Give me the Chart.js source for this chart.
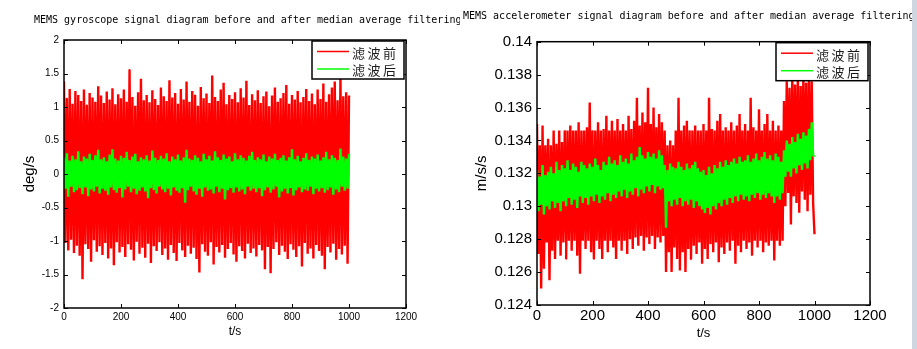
<!DOCTYPE html>
<html>
<head>
<meta charset="utf-8">
<script src="https://cdn.jsdelivr.net/npm/chart.js@4.4.1/dist/chart.umd.min.js"></script>
<style>
body { margin:0; background:#fff; width:917px; height:349px; overflow:hidden; position:relative; }
canvas { position:absolute; top:0; }
#gyro { left:0; }
#accel { left:460px; }
#edge { position:absolute; left:912px; top:0; width:5px; height:349px; background:#cfd6e0; }
</style>
</head>
<body>
<canvas id="gyro" width="460" height="349"></canvas>
<canvas id="accel" width="457" height="349"></canvas>
<div id="edge"></div>
<script>
// samples, one every 5 s (peaks at 0,10,20.. troughs at 5,15,25..)
let sampleStep = 5;
let seriesLabels = ['滤波前', '滤波后'];
let seriesColors = ['#ff0000', '#00ff00'];

let gyroTitle = 'MEMS gyroscope signal diagram before and after median average filtering';
let accelTitle = 'MEMS accelerometer signal diagram before and after median average filtering';

// gyroscope, before filtering (deg/s)
const gyroRawPeaks = [1.38,1.12,1.27,1.05,1.24,1.18,1.09,1.26,1.02,1.21,
  1.14,1.08,1.31,1.17,1.06,1.23,1.11,1.28,1.04,1.19,
  1.13,1.26,1.08,1.55,1.15,1.02,1.22,1.42,1.10,1.18,
  1.07,1.25,1.12,1.03,1.29,1.16,1.09,1.40,1.14,1.21,
  1.05,1.27,1.11,1.38,1.08,1.24,1.17,1.02,1.30,1.13,
  1.20,1.06,1.47,1.15,1.09,1.26,1.36,1.04,1.18,1.12,
  1.22,1.07,1.28,1.14,1.39,1.03,1.19,1.10,1.25,1.06,
  1.16,1.23,1.01,1.17,1.29,1.08,1.13,1.21,1.33,1.05,
  1.18,1.11,1.24,1.07,1.15,1.27,1.09,1.20,1.04,1.26,
  1.12,1.35,1.08,1.19,1.29,1.38,1.10,1.47,1.16,1.22,1.17];
const gyroRawTroughs = [-1.03,-1.14,-0.98,-1.18,-1.07,-1.22,-1.57,-1.05,-1.12,-1.31,
  -0.99,-1.16,-1.08,-1.21,-1.03,-1.26,-1.11,-1.36,-1.02,-1.17,
  -1.09,-1.24,-1.05,-1.13,-1.29,-1.01,-1.19,-1.10,-1.25,-1.04,
  -1.33,-1.08,-1.15,-1.02,-1.21,-1.11,-1.28,-1.06,-1.18,-1.30,
  -1.03,-1.14,-1.24,-1.07,-1.19,-1.10,-1.27,-1.47,-1.05,-1.16,
  -1.22,-1.02,-1.35,-1.09,-1.17,-1.06,-1.25,-1.12,-1.03,-1.20,
  -1.31,-1.08,-1.15,-1.26,-1.04,-1.18,-1.11,-1.23,-1.06,-1.14,
  -1.42,-1.09,-1.48,-1.12,-1.02,-1.21,-1.07,-1.16,-1.27,-1.05,
  -1.13,-1.24,-1.08,-1.38,-1.03,-1.19,-1.11,-1.26,-1.06,-1.15,
  -1.22,-1.42,-1.09,-1.17,-1.04,-1.28,-1.12,-1.20,-1.07,-1.34];

// gyroscope, after filtering
const gyroFiltPeaks = [0.24,0.31,0.20,0.27,0.22,0.34,0.19,0.26,0.23,0.30,
  0.21,0.28,0.36,0.22,0.25,0.19,0.29,0.37,0.23,0.20,
  0.27,0.24,0.33,0.21,0.26,0.30,0.19,0.25,0.22,0.28,
  0.20,0.35,0.24,0.21,0.27,0.23,0.31,0.19,0.26,0.22,
  0.29,0.20,0.25,0.36,0.23,0.21,0.28,0.24,0.19,0.30,
  0.22,0.27,0.20,0.34,0.25,0.21,0.29,0.23,0.26,0.19,
  0.31,0.22,0.28,0.24,0.20,0.27,0.33,0.21,0.25,0.22,
  0.29,0.19,0.26,0.23,0.30,0.21,0.24,0.28,0.20,0.25,
  0.37,0.22,0.27,0.19,0.24,0.31,0.21,0.26,0.23,0.29,
  0.20,0.25,0.33,0.22,0.28,0.24,0.21,0.38,0.26,0.23,0.30];
const gyroFiltTroughs = [-0.22,-0.34,-0.19,-0.27,-0.24,-0.21,-0.30,-0.20,-0.33,-0.23,
  -0.26,-0.19,-0.29,-0.22,-0.25,-0.31,-0.20,-0.24,-0.28,-0.21,
  -0.35,-0.23,-0.19,-0.27,-0.22,-0.30,-0.25,-0.20,-0.26,-0.36,
  -0.21,-0.24,-0.29,-0.19,-0.23,-0.27,-0.22,-0.32,-0.20,-0.25,
  -0.28,-0.21,-0.43,-0.24,-0.19,-0.26,-0.31,-0.22,-0.34,-0.20,
  -0.25,-0.23,-0.29,-0.19,-0.27,-0.22,-0.38,-0.24,-0.21,-0.28,
  -0.20,-0.26,-0.23,-0.30,-0.19,-0.25,-0.22,-0.27,-0.21,-0.33,
  -0.24,-0.20,-0.28,-0.23,-0.19,-0.35,-0.26,-0.22,-0.29,-0.21,
  -0.32,-0.24,-0.20,-0.27,-0.23,-0.25,-0.19,-0.30,-0.22,-0.26,
  -0.21,-0.28,-0.24,-0.20,-0.31,-0.23,-0.27,-0.19,-0.25,-0.22];

// accelerometer, before filtering (m/s/s)
const accelRawPeaks = [0.1350,0.1337,0.1349,0.1337,0.1341,0.1337,0.1346,0.1338,0.1346,0.1339,
  0.1346,0.1346,0.1349,0.1346,0.1346,0.1351,0.1346,0.1346,0.1348,0.1363,
  0.1346,0.1346,0.1351,0.1346,0.1347,0.1355,0.1346,0.1352,0.1346,0.1353,
  0.1346,0.1350,0.1346,0.1355,0.1347,0.1352,0.1366,0.1349,0.1357,0.1351,
  0.1372,0.1350,0.1360,0.1348,0.1356,0.1351,0.1346,0.1337,0.1340,0.1337,
  0.1346,0.1366,0.1346,0.1349,0.1352,0.1346,0.1346,0.1349,0.1346,0.1346,
  0.1350,0.1346,0.1366,0.1347,0.1346,0.1352,0.1356,0.1346,0.1348,0.1346,
  0.1351,0.1346,0.1349,0.1356,0.1346,0.1350,0.1346,0.1366,0.1348,0.1346,
  0.1359,0.1346,0.1350,0.1356,0.1346,0.1352,0.1346,0.1349,0.1346,0.1364,
  0.1376,0.1372,0.1379,0.1374,0.1378,0.1373,0.1380,0.1375,0.1379,0.1376,0.1283];
const accelRawTroughs = [0.1271,0.1250,0.1262,0.1278,0.1255,0.1273,0.1268,0.1279,0.1270,0.1278,
  0.1268,0.1279,0.1273,0.1279,0.1270,0.1259,0.1279,0.1274,0.1279,0.1272,
  0.1268,0.1279,0.1274,0.1268,0.1279,0.1272,0.1279,0.1275,0.1268,0.1279,
  0.1273,0.1279,0.1271,0.1280,0.1274,0.1281,0.1276,0.1282,0.1273,0.1281,
  0.1277,0.1282,0.1274,0.1281,0.1278,0.1282,0.1260,0.1272,0.1260,0.1275,
  0.1268,0.1261,0.1272,0.1260,0.1274,0.1268,0.1276,0.1271,0.1278,0.1265,
  0.1274,0.1268,0.1277,0.1272,0.1278,0.1266,0.1275,0.1271,0.1278,0.1273,
  0.1279,0.1265,0.1276,0.1272,0.1279,0.1274,0.1278,0.1270,0.1279,0.1275,
  0.1279,0.1272,0.1278,0.1276,0.1279,0.1267,0.1279,0.1276,0.1279,0.1300,
  0.1308,0.1289,0.1306,0.1302,0.1296,0.1309,0.1304,0.1297,0.1307,0.1302];

// accelerometer, after filtering
const accelFiltPeaks = [0.1322,0.1318,0.1325,0.1319,0.1321,0.1324,0.1320,0.1327,0.1322,0.1325,
  0.1323,0.1328,0.1322,0.1326,0.1324,0.1321,0.1327,0.1325,0.1323,0.1326,
  0.1324,0.1329,0.1325,0.1322,0.1327,0.1325,0.1330,0.1326,0.1328,0.1325,
  0.1331,0.1327,0.1329,0.1326,0.1332,0.1328,0.1330,0.1336,0.1331,0.1329,
  0.1333,0.1330,0.1332,0.1329,0.1334,0.1331,0.1325,0.1322,0.1326,0.1324,
  0.1323,0.1327,0.1324,0.1322,0.1326,0.1323,0.1325,0.1327,0.1323,0.1321,
  0.1322,0.1319,0.1324,0.1320,0.1325,0.1323,0.1327,0.1324,0.1328,0.1325,
  0.1327,0.1329,0.1326,0.1330,0.1327,0.1328,0.1331,0.1327,0.1329,0.1332,
  0.1328,0.1330,0.1333,0.1329,0.1331,0.1328,0.1332,0.1330,0.1327,0.1334,
  0.1340,0.1338,0.1342,0.1339,0.1344,0.1341,0.1345,0.1343,0.1347,0.1351,0.1330];
const accelFiltTroughs = [0.1297,0.1301,0.1295,0.1300,0.1298,0.1303,0.1299,0.1302,0.1297,0.1303,
  0.1300,0.1305,0.1301,0.1304,0.1299,0.1306,0.1302,0.1305,0.1301,0.1306,
  0.1303,0.1307,0.1302,0.1306,0.1304,0.1308,0.1303,0.1307,0.1305,0.1309,
  0.1306,0.1310,0.1305,0.1309,0.1307,0.1311,0.1306,0.1310,0.1308,0.1312,
  0.1309,0.1313,0.1308,0.1312,0.1310,0.1311,0.1287,0.1303,0.1300,0.1304,
  0.1301,0.1305,0.1300,0.1303,0.1301,0.1304,0.1299,0.1303,0.1300,0.1298,
  0.1296,0.1299,0.1295,0.1300,0.1298,0.1302,0.1300,0.1304,0.1301,0.1305,
  0.1302,0.1306,0.1303,0.1307,0.1304,0.1306,0.1303,0.1307,0.1305,0.1308,
  0.1304,0.1307,0.1305,0.1308,0.1306,0.1302,0.1306,0.1304,0.1308,0.1318,
  0.1321,0.1318,0.1323,0.1320,0.1325,0.1322,0.1326,0.1323,0.1328,0.1331];

function zigzag(peaks, troughs) {
    let pts = [];
    for (let i = 0; i < peaks.length; i++) {
        pts.push({x: i * 2 * sampleStep, y: peaks[i]});
        if (i < troughs.length) pts.push({x: (i * 2 + 1) * sampleStep, y: troughs[i]});
    }
    return pts;
}

function tickText(v) {
    return String(+v.toFixed(3));
}

// MATLAB style box, inward ticks, legend in the corner and the title
const matlabLook = {
    id: 'matlabLook',
    afterDatasetsDraw(chart, args, opts) {
        let ctx = chart.ctx;
        let a = chart.chartArea;
        let sx = chart.scales.x, sy = chart.scales.y;
        ctx.save();
        ctx.strokeStyle = '#000';
        ctx.lineWidth = 1;
        ctx.beginPath();
        sx.ticks.forEach(t => {
            let px = Math.round(sx.getPixelForValue(t.value)) + 0.5;
            ctx.moveTo(px, a.bottom); ctx.lineTo(px, a.bottom - 4);
            ctx.moveTo(px, a.top); ctx.lineTo(px, a.top + 4);
        });
        sy.ticks.forEach(t => {
            let py = Math.round(sy.getPixelForValue(t.value)) + 0.5;
            ctx.moveTo(a.left, py); ctx.lineTo(a.left + 4, py);
            ctx.moveTo(a.right, py); ctx.lineTo(a.right - 4, py);
        });
        ctx.stroke();
        ctx.lineWidth = 1.5;
        ctx.strokeRect(a.left, a.top, a.right - a.left, a.bottom - a.top);

        // legend box
        let bw = 92, bh = 38;
        let bx = a.right - 2 - bw, by = a.top + 1;
        ctx.fillStyle = '#fff';
        ctx.fillRect(bx, by, bw, bh);
        ctx.lineWidth = 1.5;
        ctx.strokeRect(bx, by, bw, bh);
        ctx.font = '13px "Noto Sans CJK SC"';
        ctx.letterSpacing = '2.5px';
        ctx.textBaseline = 'middle';
        ctx.textAlign = 'left';
        chart.data.datasets.forEach((ds, i) => {
            let ly = by + 10.5 + i * 17.5;
            ctx.strokeStyle = ds.borderColor;
            ctx.lineWidth = 1.5;
            ctx.beginPath();
            ctx.moveTo(bx + 5, ly); ctx.lineTo(bx + 37, ly);
            ctx.stroke();
            ctx.fillStyle = '#1a1a1a';
            ctx.fillText(ds.label, bx + 40, ly + 1.5);
        });
        ctx.letterSpacing = '0px';

        // title
        ctx.font = '10px "DejaVu Sans Mono"';
        ctx.fillStyle = '#000';
        ctx.fillText(opts.text, opts.x, opts.y);
        ctx.restore();
    }
};

function makeChart(id, cfg) {
    let ctx = document.getElementById(id).getContext('2d');
    let lineStyle = {
        borderWidth: 2.4,
        pointRadius: 0,
        borderJoinStyle: 'bevel',
        tension: 0.0001   // keeps chart.js off its min/max fast path, every sample gets drawn
    };
    return new Chart(ctx, {
        type: 'line',
        data: {
            datasets: [{
                ...lineStyle,
                label: seriesLabels[0],
                data: zigzag(cfg.raw[0], cfg.raw[1]),
                borderColor: seriesColors[0],
                order: 2
            }, {
                ...lineStyle,
                label: seriesLabels[1],
                data: zigzag(cfg.filt[0], cfg.filt[1]),
                borderColor: seriesColors[1],
                order: 1
            }]
        },
        options: {
            responsive: false,
            animation: false,
            devicePixelRatio: 1,
            events: [],
            layout: { padding: { top: cfg.top, right: cfg.right, left: 0, bottom: 0 } },
            plugins: {
                legend: { display: false },
                tooltip: { enabled: false },
                matlabLook: { text: cfg.title, x: cfg.titleX, y: cfg.titleY }
            },
            scales: {
                x: {
                    type: 'linear',
                    min: 0, max: 1200,
                    grid: { display: false, drawTicks: false },
                    border: { display: false },
                    ticks: { stepSize: 200, maxRotation: 0, padding: cfg.xPad, color: '#000', callback: tickText,
                        font: { family: '"Liberation Sans", Arial', size: cfg.tickSize } },
                    title: { display: true, text: 't/s', color: '#000',
                        font: { family: '"Liberation Sans", Arial', size: cfg.xTitleSize },
                        padding: { top: 0, bottom: cfg.xTitlePad } },
                    afterFit: s => { s.height = cfg.xHeight; }
                },
                y: {
                    min: cfg.yMin, max: cfg.yMax,
                    grid: { display: false, drawTicks: false },
                    border: { display: false },
                    ticks: { stepSize: cfg.yStep, padding: 5, color: '#000', callback: tickText,
                        font: { family: '"Liberation Sans", Arial', size: cfg.tickSize } },
                    title: { display: true, text: cfg.yTitle, color: '#000',
                        font: { family: '"Liberation Sans", Arial', size: 15 },
                        padding: { top: cfg.yTitlePad, bottom: 0 } },
                    afterFit: s => { s.width = cfg.yWidth; }
                }
            }
        },
        plugins: [matlabLook]
    });
}

makeChart('gyro', {
    raw: [gyroRawPeaks, gyroRawTroughs],
    filt: [gyroFiltPeaks, gyroFiltTroughs],
    title: gyroTitle, titleX: 34, titleY: 20,
    top: 40, right: 54, yWidth: 64, xHeight: 41,
    yMin: -2, yMax: 2, yStep: 0.5, yTitle: 'deg/s', yTitlePad: 21,
    tickSize: 10, xPad: 3, xTitleSize: 12, xTitlePad: 10
});

makeChart('accel', {
    raw: [accelRawPeaks, accelRawTroughs],
    filt: [accelFiltPeaks, accelFiltTroughs],
    title: accelTitle, titleX: 3, titleY: 16,
    top: 41.7, right: 47, yWidth: 77, xHeight: 44,
    yMin: 0.124, yMax: 0.14, yStep: 0.002, yTitle: 'm/s/s', yTitlePad: 12.7,
    tickSize: 15, xPad: 2, xTitleSize: 13, xTitlePad: 8
});
</script>
</body>
</html>
